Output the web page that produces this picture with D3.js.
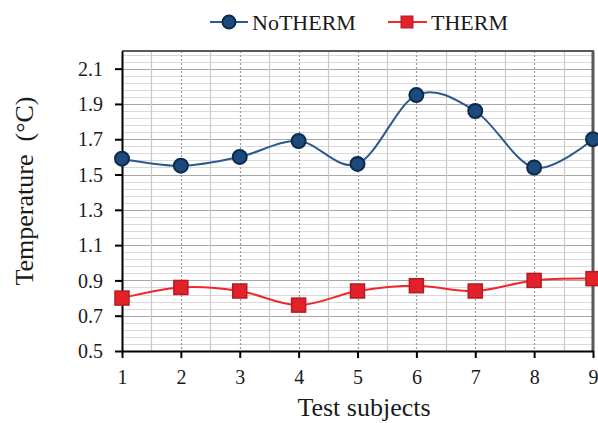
<!DOCTYPE html>
<html>
<head>
<meta charset="utf-8">
<script src="https://cdn.jsdelivr.net/npm/d3@7"></script>
<style>
  body { margin: 0; background: #fff; }
  svg text { font-family: "Liberation Serif", "Times New Roman", serif; fill: #1a1a1a; }
</style>
</head>
<body>
<div id="chart"></div>
<script>
var subjects = [1, 2, 3, 4, 5, 6, 7, 8, 9];
var noTherm = [1.59, 1.55, 1.60, 1.69, 1.56, 1.95, 1.86, 1.54, 1.70];
var therm = [0.80, 0.86, 0.84, 0.76, 0.84, 0.87, 0.84, 0.90, 0.91];
var yTicks = [0.5, 0.7, 0.9, 1.1, 1.3, 1.5, 1.7, 1.9, 2.1];

var serif = "'Liberation Serif', 'Times New Roman', serif";
var width = 598, height = 423;
var margin = {top: 51, right: 4, bottom: 72, left: 122};
var w = width - margin.left - margin.right;
var h = height - margin.top - margin.bottom;

var svg = d3.select("#chart").append("svg")
  .attr("width", width)
  .attr("height", height);

var g = svg.append("g")
  .attr("transform", "translate(" + margin.left + "," + margin.top + ")");

var x = d3.scaleLinear().domain([1, 9]).range([0, w - 1]);
var y = d3.scaleLinear().domain([0.5, 2.2]).range([h, 0]);

// minor horizontal grid
var minor = d3.range(0.54, 2.2, 0.04);
g.selectAll(".hminor").data(minor).enter().append("line")
  .attr("x1", 0).attr("x2", w)
  .attr("y1", function(d){ return Math.round(y(d)) + 0.5; })
  .attr("y2", function(d){ return Math.round(y(d)) + 0.5; })
  .attr("stroke", "#d9d9d9").attr("stroke-width", 1);

// major horizontal grid
g.selectAll(".hmajor").data(yTicks.slice(1)).enter().append("line")
  .attr("x1", 0).attr("x2", w)
  .attr("y1", function(d){ return Math.round(y(d)) + 0.5; })
  .attr("y2", function(d){ return Math.round(y(d)) + 0.5; })
  .attr("stroke", "#a6a6a6").attr("stroke-width", 1);

// vertical grid: solid between subjects, dotted at subjects
var halves = d3.range(1.5, 9, 1);
g.selectAll(".vhalf").data(halves).enter().append("line")
  .attr("y1", 0).attr("y2", h)
  .attr("x1", function(d){ return Math.round(x(d)) + 0.5; })
  .attr("x2", function(d){ return Math.round(x(d)) + 0.5; })
  .attr("stroke", "#c8c8c8").attr("stroke-width", 1.2);

g.selectAll(".vdot").data(subjects.slice(1, 8)).enter().append("line")
  .attr("y1", 0).attr("y2", h)
  .attr("x1", function(d){ return Math.round(x(d)) + 0.5; })
  .attr("x2", function(d){ return Math.round(x(d)) + 0.5; })
  .attr("stroke", "#9a9a9a").attr("stroke-width", 1.2)
  .attr("stroke-dasharray", "2,2");

// top and right border
g.append("line").attr("x1", 0).attr("x2", w).attr("y1", 0).attr("y2", 0)
  .attr("stroke", "#595959").attr("stroke-width", 2);
g.append("line").attr("x1", w - 1).attr("x2", w - 1).attr("y1", 0).attr("y2", h)
  .attr("stroke", "#595959").attr("stroke-width", 3);

// axes
var yAxis = d3.axisLeft(y).tickValues(yTicks).tickSize(7).tickSizeOuter(0)
  .tickFormat(d3.format(".1f"));
var gy = g.append("g").call(yAxis)
  .attr("font-family", serif).attr("font-size", 20);
gy.select(".domain").attr("stroke", "#000").attr("stroke-width", 2);
gy.selectAll(".tick line").attr("stroke", "#000").attr("stroke-width", 2);
gy.selectAll(".tick text").attr("x", -19).attr("dy", "0.33em").attr("fill", "#1a1a1a");

var xAxis = d3.axisBottom(x).tickValues(subjects).tickSize(7).tickSizeOuter(0)
  .tickFormat(d3.format("d"));
var gx = g.append("g").attr("transform", "translate(0," + h + ")").call(xAxis)
  .attr("font-family", serif).attr("font-size", 20);
gx.select(".domain").attr("stroke", "#000").attr("stroke-width", 2);
gx.selectAll(".tick line").attr("stroke", "#000").attr("stroke-width", 2);
gx.selectAll(".tick text").attr("y", 33).attr("dy", 0).attr("fill", "#1a1a1a");

// axis titles
svg.append("text")
  .attr("x", 364).attr("y", 416)
  .attr("text-anchor", "middle")
  .style("font-size", "26px")
  .text("Test subjects");

svg.append("text")
  .attr("transform", "translate(33,191) rotate(-90)")
  .attr("text-anchor", "middle")
  .style("font-size", "26px")
  .style("white-space", "pre")
  .text("Temperature  (\u00B0C)");

// lines
var line = d3.line()
  .x(function(d, i){ return x(subjects[i]); })
  .y(function(d){ return y(d); })
  .curve(d3.curveCatmullRom.alpha(0));

g.append("path").datum(noTherm)
  .attr("d", line).attr("fill", "none")
  .attr("stroke", "#2a5a8f").attr("stroke-width", 2);

g.append("path").datum(therm)
  .attr("d", line).attr("fill", "none")
  .attr("stroke", "#f0282d").attr("stroke-width", 2);

g.selectAll(".dot").data(noTherm).enter().append("circle")
  .attr("cx", function(d, i){ return x(subjects[i]); })
  .attr("cy", function(d){ return y(d); })
  .attr("r", 7)
  .attr("fill", "#1c4a7d").attr("stroke", "#0c2a4c").attr("stroke-width", 2);

g.selectAll(".sq").data(therm).enter().append("rect")
  .attr("x", function(d, i){ return x(subjects[i]) - 7; })
  .attr("y", function(d){ return y(d) - 7; })
  .attr("width", 14).attr("height", 14)
  .attr("fill", "#e3212a").attr("stroke", "#b51c22").attr("stroke-width", 1.5);

// legend
var leg = svg.append("g");
leg.append("line").attr("x1", 210).attr("x2", 248).attr("y1", 22).attr("y2", 22)
  .attr("stroke", "#2a5a8f").attr("stroke-width", 2);
leg.append("circle").attr("cx", 229).attr("cy", 22).attr("r", 6.5)
  .attr("fill", "#1c4a7d").attr("stroke", "#0c2a4c").attr("stroke-width", 2);
leg.append("text").attr("x", 252).attr("y", 30)
  .style("font-size", "22px").text("NoTHERM");

leg.append("line").attr("x1", 388).attr("x2", 427).attr("y1", 22).attr("y2", 22)
  .attr("stroke", "#f0282d").attr("stroke-width", 2);
leg.append("rect").attr("x", 401).attr("y", 16).attr("width", 12).attr("height", 12)
  .attr("fill", "#e3212a").attr("stroke", "#b51c22").attr("stroke-width", 1);
leg.append("text").attr("x", 431).attr("y", 30)
  .style("font-size", "22px").text("THERM");
</script>
</body>
</html>
